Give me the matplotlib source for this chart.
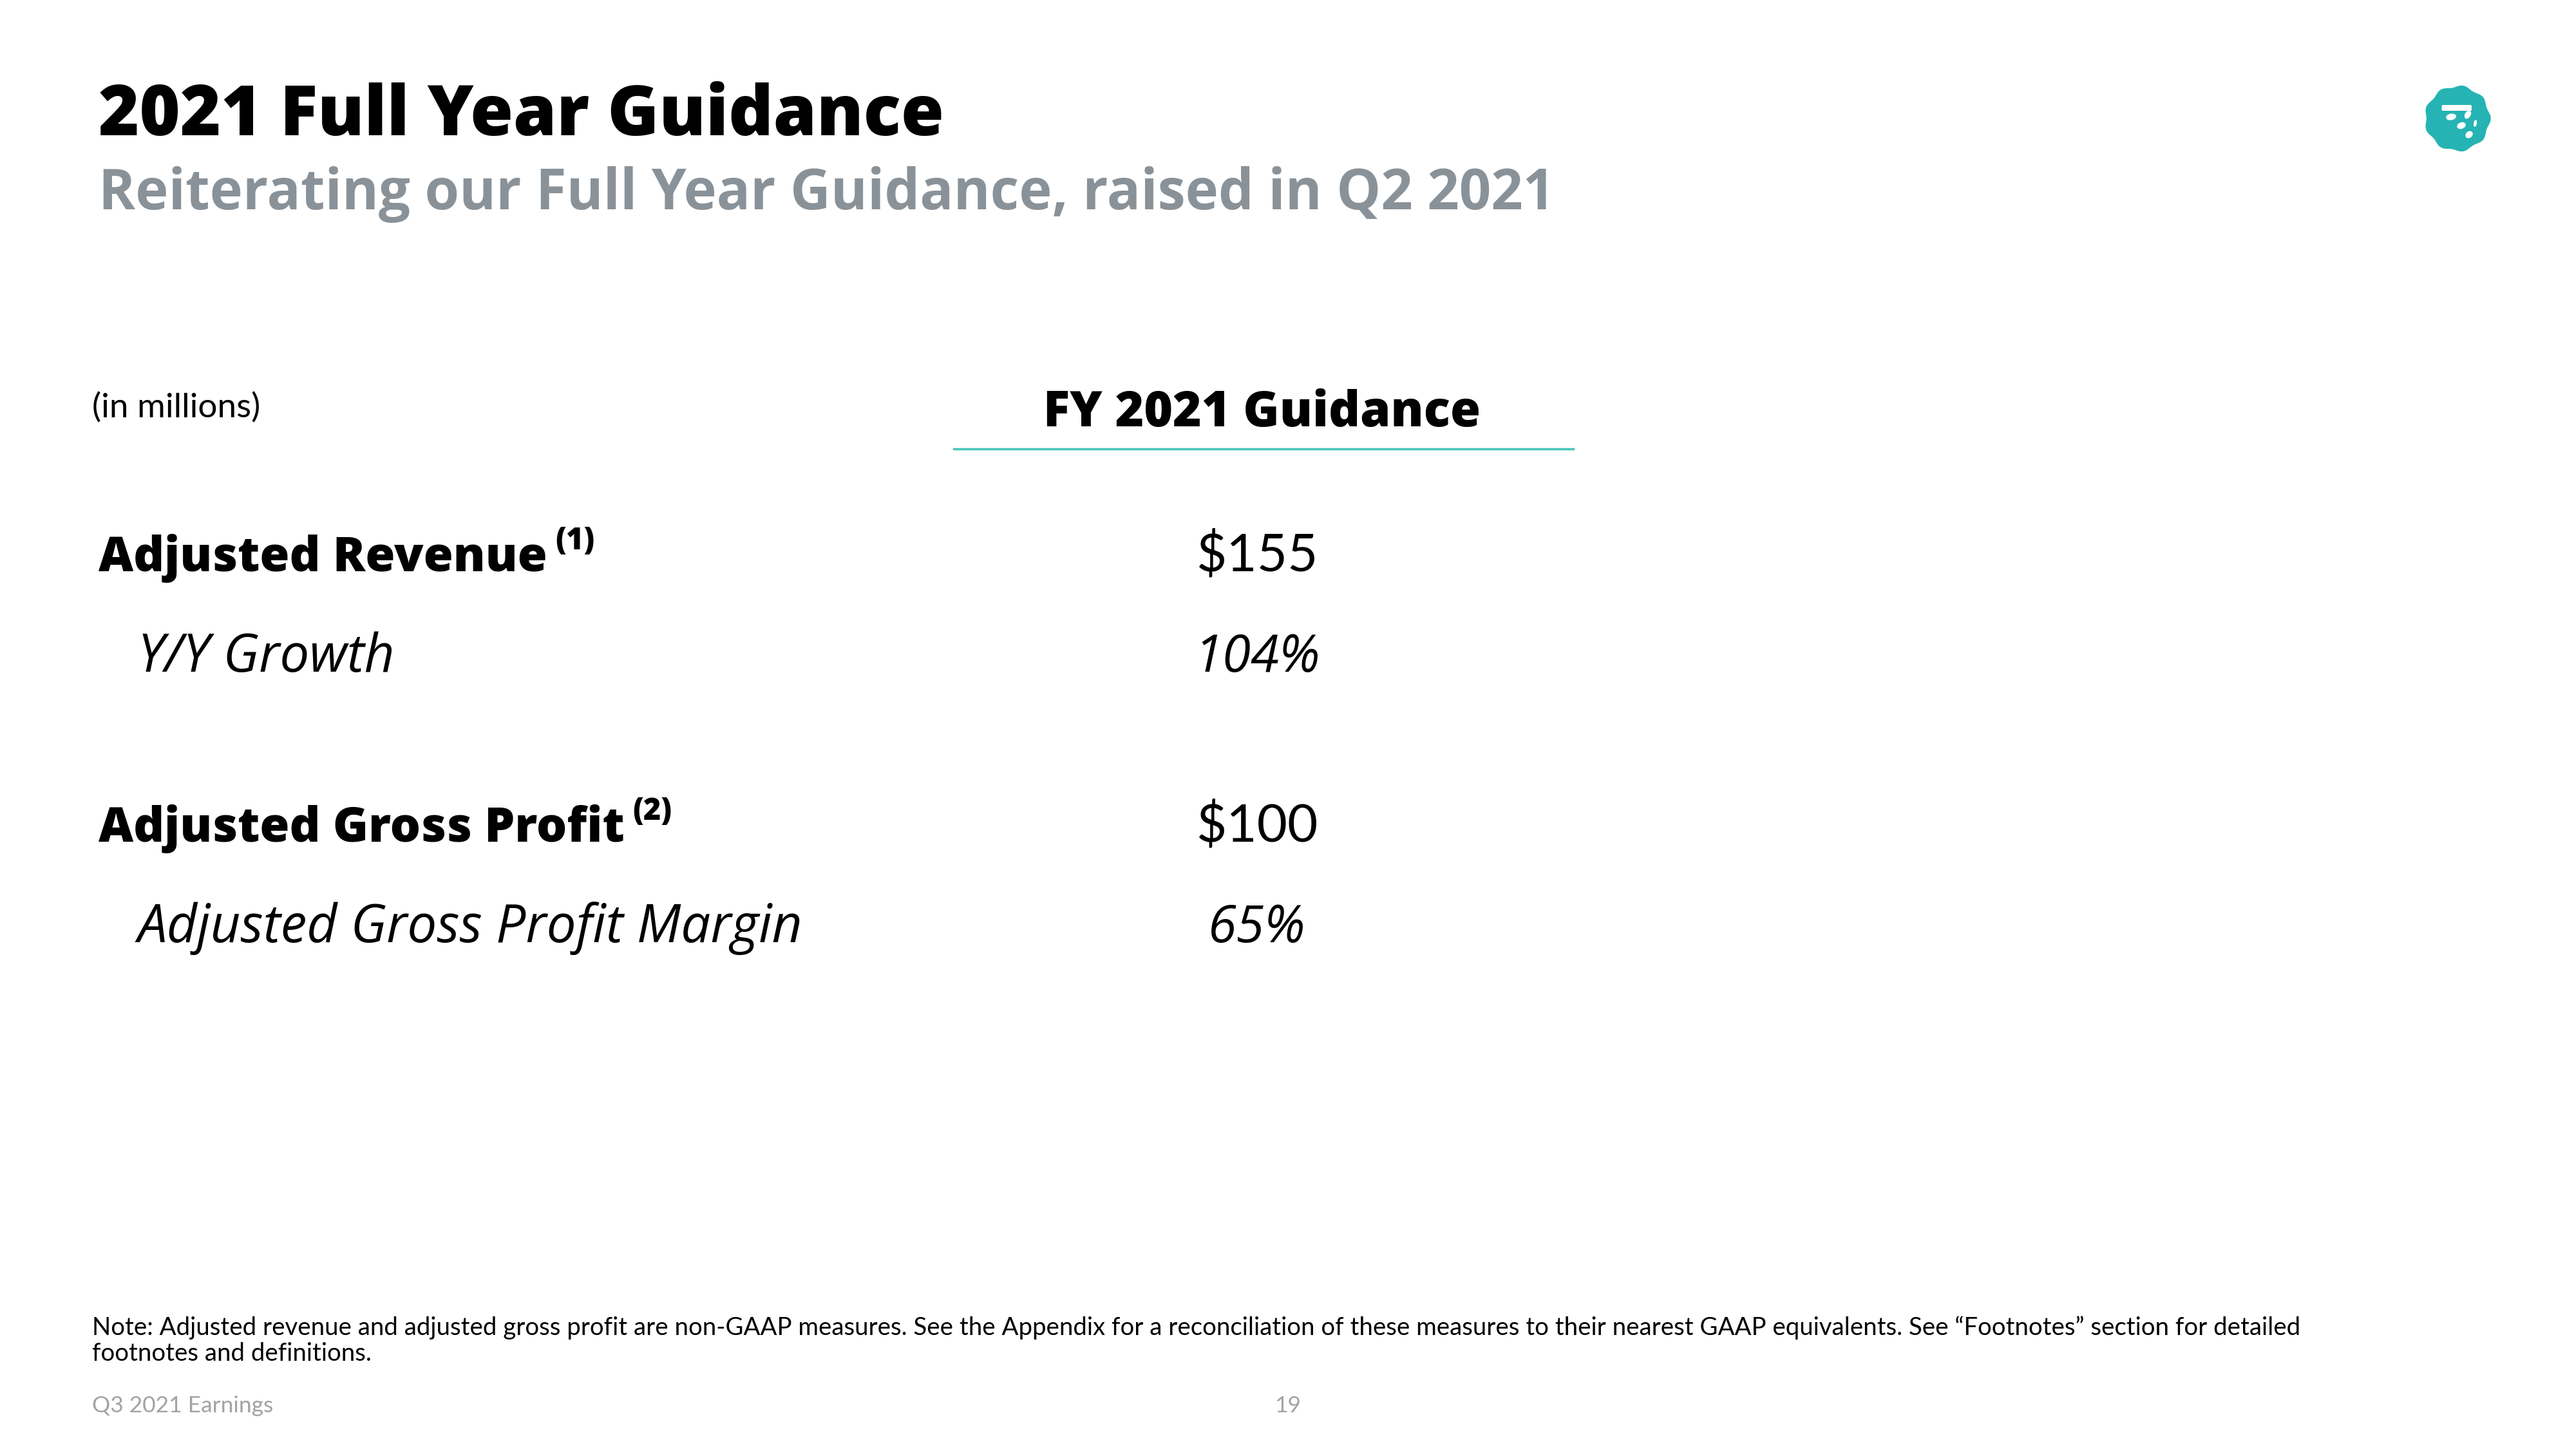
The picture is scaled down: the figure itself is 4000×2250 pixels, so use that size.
import numpy as np
import matplotlib
matplotlib.use("Agg")
import matplotlib.pyplot as plt
from matplotlib.patches import Polygon, Ellipse, FancyBboxPatch

# ---- data ----
title = "2021 Full Year Guidance"
subtitle = "Reiterating our Full Year Guidance, raised in Q2 2021"
unit_label = "(in millions)"
column_header = "FY 2021 Guidance"
row_labels = ["Adjusted Revenue", "Y/Y Growth", "Adjusted Gross Profit", "Adjusted Gross Profit Margin"]
row_footnotes = ["(1)", "", "(2)", ""]
row_values = ["$155", "104%", "$100", "65%"]
row_is_main = [True, False, True, False]
note_lines = [
    "Note: Adjusted revenue and adjusted gross profit are non-GAAP measures. See the Appendix for a reconciliation of these measures to their nearest GAAP equivalents. See \u201cFootnotes\u201d section for detailed",
    "footnotes and definitions.",
]
footer_left = "Q3 2021 Earnings"
page_number = "19"

W, H = 4000, 2250
fig = plt.figure(figsize=(16, 9), dpi=250)
fig.patch.set_facecolor("white")

def fx(px):
    return px / W

def fy(py):
    return 1 - py / H

HEAVY = "Open Sans"
BODY = "Lato"
TEAL = "#26b3b3"
LINE_TEAL = "#45c4b8"
GRAY = "#8a9299"

# title and subtitle
fig.text(fx(153), fy(210), title, fontsize=31.2, fontweight="extra bold", family=HEAVY,
         color="black", va="baseline", ha="left")
fig.text(fx(153), fy(325), subtitle, fontsize=25, fontweight="bold", family=HEAVY,
         color=GRAY, va="baseline", ha="left")

# header
fig.text(fx(143), fy(648), unit_label, fontsize=15.3, family=BODY, color="black",
         va="baseline", ha="left")
col_x = 1960
fig.text(fx(col_x), fy(662), column_header, fontsize=22, fontweight="extra bold", family=HEAVY,
         color="black", va="baseline", ha="center")
fig.add_artist(plt.Line2D([fx(1481), fx(2443)], [fy(697), fy(697)], color=LINE_TEAL, lw=1.0))

# rows
row_baselines = [887, 1043, 1307, 1463]
fig.canvas.draw()
renderer = fig.canvas.get_renderer()
for lab, fn, val, main, yb in zip(row_labels, row_footnotes, row_values, row_is_main, row_baselines):
    if main:
        t = fig.text(fx(153), fy(yb), lab, fontsize=21.5, fontweight="extra bold", family=HEAVY,
                     color="black", va="baseline", ha="left")
        if fn:
            bb = t.get_window_extent(renderer)
            xr = bb.x1 / fig.bbox.width + 0.003
            fig.text(xr, fy(yb - 34), fn, fontsize=13.5, fontweight="extra bold", family=HEAVY,
                     color="black", va="baseline", ha="left")
        fig.text(fx(1952), fy(yb), val, fontsize=23.5, family=BODY, color="black",
                 va="baseline", ha="center")
    else:
        fig.text(fx(214), fy(yb), lab, fontsize=23.5, style="italic", family="Open Sans",
                 color="black", va="baseline", ha="left")
        fig.text(fx(1952), fy(yb), val, fontsize=23, style="italic", family="Open Sans",
                 color="black", va="baseline", ha="center")

# notes
for i, line in enumerate(note_lines):
    fig.text(fx(143), fy(2073 + 40 * i), line, fontsize=11.06, family=BODY, color="black",
             va="baseline", ha="left")
fig.text(fx(143), fy(2193), footer_left, fontsize=10.2, family=BODY, color="#a3a3a3",
         va="baseline", ha="left")
fig.text(fx(2000), fy(2193), page_number, fontsize=10.2, family=BODY, color="#a3a3a3",
         va="baseline", ha="center")

# logo
lax = fig.add_axes([fx(3756), fy(244), fx(120), 120 / H])
lax.set_xlim(-1.2, 1.2)
lax.set_ylim(-1.2, 1.2)
lax.set_aspect("equal")
lax.axis("off")
th = np.linspace(0, 2 * np.pi, 400)
r = 1 + 0.035 * np.cos(9 * th)
lax.add_patch(Polygon(np.c_[r * np.cos(th), r * np.sin(th)], closed=True, color=TEAL, lw=0))
lax.add_patch(FancyBboxPatch((-0.45, 0.28), 0.85, 0.1, boxstyle="round,pad=0.04", color="white", lw=0))
lax.add_patch(Ellipse((0.32, 0.12), 0.18, 0.28, angle=-30, color="white", lw=0))
lax.add_patch(Ellipse((-0.2, 0.05), 0.32, 0.2, angle=10, color="white", lw=0))
lax.add_patch(Ellipse((0.12, -0.22), 0.28, 0.2, angle=20, color="white", lw=0))
lax.add_patch(Ellipse((0.55, -0.15), 0.1, 0.22, angle=-10, color="white", lw=0))
lax.add_patch(Ellipse((0.36, -0.5), 0.25, 0.2, angle=40, color="white", lw=0))

fig.savefig("out.png", dpi=250, facecolor="white")
